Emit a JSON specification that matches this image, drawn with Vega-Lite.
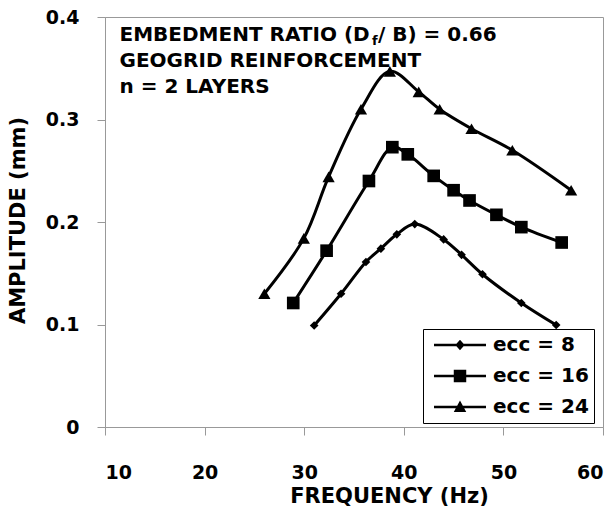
{
  "$schema": "https://vega.github.io/schema/vega-lite/v6.json",
  "width": 498,
  "height": 410,
  "autosize": {"type": "none"},
  "padding": {"left": 105, "top": 17, "right": 13, "bottom": 82},
  "background": "white",
  "config": {
    "view": {"stroke": "#999999", "strokeWidth": 1},
    "font": "DejaVu Sans",
    "axis": {"grid": false, "domainColor": "#999999", "tickColor": "#999999", "tickSize": 8,
      "labelFont": "DejaVu Sans", "labelFontSize": 19, "labelFontWeight": "bold", "labelColor": "black",
      "titleFont": "DejaVu Sans", "titleFontSize": 21, "titleFontWeight": "bold", "titleColor": "black"}
  },
  "datasets": {
    "curves": [
      {"series": "ecc = 8", "freq": 31.0, "amp": 0.099},
      {"series": "ecc = 8", "freq": 33.7, "amp": 0.130},
      {"series": "ecc = 8", "freq": 36.2, "amp": 0.161},
      {"series": "ecc = 8", "freq": 37.7, "amp": 0.174},
      {"series": "ecc = 8", "freq": 39.3, "amp": 0.188},
      {"series": "ecc = 8", "freq": 41.1, "amp": 0.198},
      {"series": "ecc = 8", "freq": 44.0, "amp": 0.183},
      {"series": "ecc = 8", "freq": 45.8, "amp": 0.168},
      {"series": "ecc = 8", "freq": 47.9, "amp": 0.149},
      {"series": "ecc = 8", "freq": 51.8, "amp": 0.121},
      {"series": "ecc = 8", "freq": 55.3, "amp": 0.0995},
      {"series": "ecc = 16", "freq": 28.9, "amp": 0.121},
      {"series": "ecc = 16", "freq": 32.25, "amp": 0.172},
      {"series": "ecc = 16", "freq": 36.5, "amp": 0.240},
      {"series": "ecc = 16", "freq": 38.85, "amp": 0.273},
      {"series": "ecc = 16", "freq": 40.4, "amp": 0.266},
      {"series": "ecc = 16", "freq": 43.0, "amp": 0.245},
      {"series": "ecc = 16", "freq": 45.0, "amp": 0.231},
      {"series": "ecc = 16", "freq": 46.6, "amp": 0.221},
      {"series": "ecc = 16", "freq": 49.3, "amp": 0.207},
      {"series": "ecc = 16", "freq": 51.8, "amp": 0.195},
      {"series": "ecc = 16", "freq": 55.85, "amp": 0.180},
      {"series": "ecc = 24", "freq": 26.0, "amp": 0.130},
      {"series": "ecc = 24", "freq": 29.96, "amp": 0.184},
      {"series": "ecc = 24", "freq": 32.45, "amp": 0.244},
      {"series": "ecc = 24", "freq": 35.7, "amp": 0.310},
      {"series": "ecc = 24", "freq": 38.6, "amp": 0.347},
      {"series": "ecc = 24", "freq": 41.5, "amp": 0.327},
      {"series": "ecc = 24", "freq": 43.6, "amp": 0.310},
      {"series": "ecc = 24", "freq": 46.8, "amp": 0.291},
      {"series": "ecc = 24", "freq": 50.9, "amp": 0.270},
      {"series": "ecc = 24", "freq": 56.8, "amp": 0.231}
    ],
    "notes": [
      {"label": "EMBEDMENT RATIO (D", "freq": 11.46, "amp": 0.3766},
      {"label": "/ B) = 0.66", "freq": 37.41, "amp": 0.3766},
      {"label": "GEOGRID REINFORCEMENT", "freq": 11.46, "amp": 0.3512},
      {"label": "n = 2 LAYERS", "freq": 11.46, "amp": 0.3259}
    ],
    "subs": [
      {"label": "f", "freq": 36.81, "amp": 0.3727}
    ]
  },
  "layer": [
    {
      "data": {"name": "curves"},
      "mark": {"type": "line", "interpolate": "catmull-rom", "color": "black", "strokeWidth": 3},
      "encoding": {
        "x": {"field": "freq", "type": "quantitative",
          "scale": {"domain": [10, 60], "nice": false},
          "axis": {"values": [10, 20, 30, 40, 50, 60], "labelPadding": 28, "title": "FREQUENCY (Hz)",
            "titleX": 284, "titleY": 75, "titleBaseline": "alphabetic", "titleAnchor": null}},
        "y": {"field": "amp", "type": "quantitative",
          "scale": {"domain": [0, 0.4], "nice": false},
          "axis": {"values": [0, 0.1, 0.2, 0.3, 0.4], "format": "~g", "labelPadding": 18,
            "title": "AMPLITUDE (mm)", "titleX": -87, "titleY": 203, "titleAngle": -90,
            "titleAlign": "center", "titleBaseline": "middle"}},
        "detail": {"field": "series", "type": "nominal"}
      }
    },
    {
      "data": {"name": "curves"},
      "transform": [{"filter": {"field": "series", "equal": "ecc = 8"}}],
      "mark": {"type": "point", "shape": "diamond", "filled": true, "color": "black", "opacity": 1, "size": 75},
      "encoding": {
        "x": {"field": "freq", "type": "quantitative"},
        "y": {"field": "amp", "type": "quantitative"}
      }
    },
    {
      "data": {"name": "curves"},
      "transform": [{"filter": {"field": "series", "equal": "ecc = 16"}}],
      "mark": {"type": "point", "shape": "square", "filled": true, "color": "black", "opacity": 1, "size": 160},
      "encoding": {
        "x": {"field": "freq", "type": "quantitative"},
        "y": {"field": "amp", "type": "quantitative"}
      }
    },
    {
      "data": {"name": "curves"},
      "transform": [{"filter": {"field": "series", "equal": "ecc = 24"}}],
      "mark": {"type": "point", "shape": "triangle-up", "filled": true, "color": "black", "opacity": 1, "size": 150},
      "encoding": {
        "x": {"field": "freq", "type": "quantitative"},
        "y": {"field": "amp", "type": "quantitative"}
      }
    },
    {
      "data": {"name": "curves"},
      "mark": {"type": "point", "filled": true, "fill": "black", "stroke": "black", "strokeWidth": 2.5, "opacity": 0, "size": 432},
      "encoding": {
        "x": {"field": "freq", "type": "quantitative"},
        "y": {"field": "amp", "type": "quantitative"},
        "shape": {"field": "series", "type": "nominal",
          "scale": {"domain": ["ecc = 8", "ecc = 16", "ecc = 24"],
            "range": ["M-2.5,-0.12H2.5V0.12H-2.5ZM0,-0.5L0.45,0L0,0.5L-0.45,0Z", "M-2.5,-0.12H2.5V0.12H-2.5ZM-0.6,-0.6H0.6V0.6H-0.6Z", "M-2.5,-0.12H2.5V0.12H-2.5ZM0,-0.62L0.6,0.48H-0.6Z"]},
          "legend": {
            "title": null, "orient": "none", "legendX": 318, "legendY": 312,
            "strokeColor": "black", "fillColor": "white", "padding": 5,
            "symbolSize": 432, "symbolOffset": 20, "labelOffset": 21, "rowPadding": 9, "clipHeight": 22,
            "labelFont": "DejaVu Sans", "labelFontSize": 20, "labelFontWeight": "bold", "labelColor": "black",
            "symbolFillColor": "black", "symbolStrokeColor": "black", "symbolStrokeWidth": 2.5, "symbolOpacity": 1,
            "encode": {
              "legend": {"update": {"strokeWidth": {"value": 1.5}}},
              "symbols": {"update": {
                "fill": {"value": "black"},
                "stroke": {"value": "black"},
                "strokeWidth": {"value": 2.5},
                "opacity": {"value": 1}
              }}
            }
          }}
      }
    },
    {
      "data": {"name": "notes"},
      "mark": {"type": "text", "align": "left", "baseline": "alphabetic", "font": "DejaVu Sans", "fontSize": 20, "fontWeight": "bold", "color": "black"},
      "encoding": {
        "x": {"field": "freq", "type": "quantitative"},
        "y": {"field": "amp", "type": "quantitative"},
        "text": {"field": "label", "type": "nominal"}
      }
    },
    {
      "data": {"name": "subs"},
      "mark": {"type": "text", "align": "left", "baseline": "alphabetic", "font": "DejaVu Sans", "fontSize": 13, "fontWeight": "bold", "color": "black"},
      "encoding": {
        "x": {"field": "freq", "type": "quantitative"},
        "y": {"field": "amp", "type": "quantitative"},
        "text": {"field": "label", "type": "nominal"}
      }
    }
  ]
}
